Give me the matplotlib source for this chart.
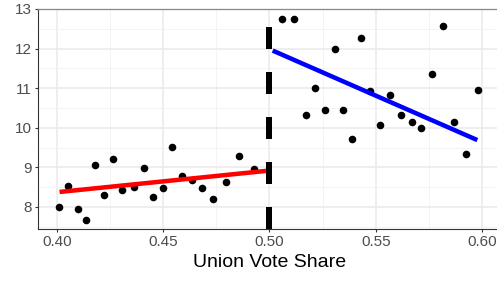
import numpy as np
import matplotlib
matplotlib.use("Agg")
import matplotlib.pyplot as plt

# points left of the cutoff
left_x = [0.401, 0.4053, 0.4097, 0.4136, 0.4177, 0.4223, 0.4262, 0.4306, 0.4361, 0.4408,
          0.4450, 0.4497, 0.4543, 0.4587, 0.4634, 0.4682, 0.4736, 0.4795, 0.4855, 0.4928]
left_y = [8.00, 8.53, 7.95, 7.67, 9.07, 8.31, 9.20, 8.42, 8.50, 8.98,
          8.24, 8.49, 9.52, 8.79, 8.69, 8.49, 8.19, 8.62, 9.30, 8.95]

# points right of the cutoff
right_x = [0.5057, 0.5117, 0.5170, 0.5213, 0.5260, 0.5307, 0.5346, 0.5390, 0.5431, 0.5473,
           0.5520, 0.5568, 0.5619, 0.5669, 0.5713, 0.5763, 0.5815, 0.5868, 0.5923, 0.5981]
right_y = [12.755, 12.74, 10.33, 11.01, 10.44, 11.99, 10.46, 9.72, 12.27, 10.94,
           10.06, 10.82, 10.32, 10.15, 9.99, 11.36, 12.57, 10.15, 9.34, 10.95]

# fitted lines
fit_left_x = [0.4012, 0.50]
fit_left_y = [8.38, 8.92]
fit_right_x = [0.5015, 0.5978]
fit_right_y = [11.95, 9.69]

cutoff = 0.50
x_ticks = [0.40, 0.45, 0.50, 0.55, 0.60]
y_ticks = [8, 9, 10, 11, 12, 13]

plt.rcParams['font.family'] = ['Liberation Sans', 'DejaVu Sans']
plt.rcParams['lines.scale_dashes'] = False

px = 0.72  # one pixel in points at dpi 100

fig = plt.figure(figsize=(4.97, 2.84), dpi=100)
ax = fig.add_axes([38 / 497, 55 / 284, 463 / 497, 220 / 284])

xlim = (0.39106, 0.60894)
ylim = (7.444, 13.0)
ax.set_xlim(*xlim)
ax.set_ylim(*ylim)

# grid
ax.set_xticks(x_ticks)
ax.set_yticks(y_ticks)
ax.set_xticks([0.425, 0.475, 0.525, 0.575], minor=True)
ax.set_yticks([7.5, 8.5, 9.5, 10.5, 11.5, 12.5], minor=True)
ax.grid(True, which='major', color='#ebebeb', linewidth=1.6 * px, zorder=0)
ax.grid(True, which='minor', color='#f2f2f2', linewidth=0.9 * px, zorder=0)
ax.set_axisbelow(True)

ax.scatter(left_x, left_y, s=30, color='black', zorder=3, linewidths=0)
ax.scatter(right_x, right_y, s=30, color='black', zorder=3, linewidths=0)

ax.plot(fit_left_x, fit_left_y, color='#ff0000', linewidth=4.5 * px, solid_capstyle='butt', zorder=4)
ax.plot(fit_right_x, fit_right_y, color='#0000ff', linewidth=4.5 * px, solid_capstyle='butt', zorder=4)

ax.plot([cutoff, cutoff], [ylim[0], ylim[1]], color='black', linewidth=6 * px,
        dashes=(22 * px, 23 * px), dash_capstyle='butt', zorder=5)

for side in ['left', 'bottom']:
    ax.spines[side].set_color('#333333')
    ax.spines[side].set_linewidth(1.1 * px)
ax.spines['top'].set_color('#8a8a8a')
ax.spines['top'].set_linewidth(1.3 * px)
ax.spines['right'].set_visible(False)

ax.tick_params(which='major', length=3 * px, width=1.1 * px, color='#333333',
               labelcolor='#4d4d4d', labelsize=11, pad=2)
ax.tick_params(which='minor', length=0)
ax.set_xticklabels([f"{v:.2f}" for v in x_ticks])
ax.set_yticklabels([str(v) for v in y_ticks])

ax.set_xlabel("Union Vote Share", fontsize=14, color='black', labelpad=4)

fig.savefig("out.png", dpi=100)
